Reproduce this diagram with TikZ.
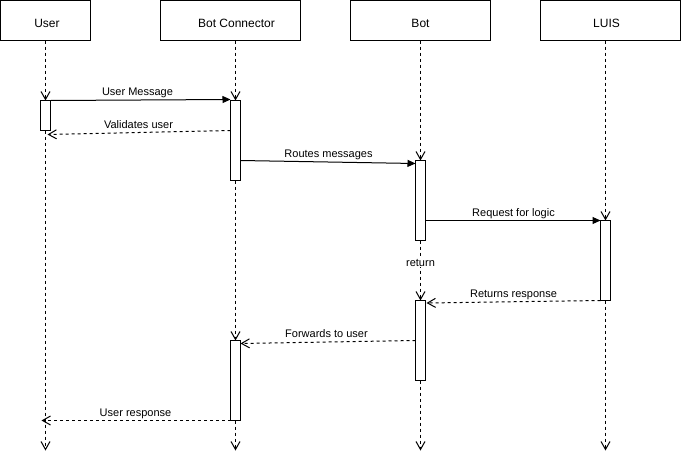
\documentclass[tikz,border=0pt]{standalone}
\usepackage{fontspec}
\setmainfont{Liberation Sans}
\usetikzlibrary{arrows.meta,calc}
\begin{document}
\begin{tikzpicture}[x=1pt,y=-1pt,
  head/.style={draw,line width=1pt,minimum height=40pt,inner sep=0pt,outer sep=0pt,
    text height=15pt,text depth=0.4pt,font=\fontsize{12}{14}\selectfont},
  act/.style={draw,fill=white,line width=1pt,minimum width=10pt,inner sep=0pt,outer sep=0pt,anchor=north},
  life/.style={line width=1pt,dash pattern=on 3pt off 3pt,-{Straight Barb[length=8pt,width=9pt]}},
  msg/.style={line width=1pt,-{Triangle[length=8pt,width=7pt]}},
  ret/.style={line width=1pt,dash pattern=on 3pt off 3pt,-{Straight Barb[length=8pt,width=9pt]}},
  lbl/.style={font=\fontsize{11}{13}\selectfont,inner sep=0pt,anchor=base}]
\useasboundingbox (-0.5,-0.5) rectangle (680.5,460.5);

% headers
\node[head,minimum width=90pt] (user) at (45,20) {\hspace*{3pt}User};
\node[head,minimum width=140pt] (bc) at (230,20) {\hspace*{12pt}Bot Connector};
\node[head,minimum width=140pt] (bot) at (420,20) {Bot};
\node[head,minimum width=140pt] (luis) at (610,20) {\hspace*{-8pt}LUIS};

% activation bars
\node[act,minimum height=30pt] (ua) at (45,100) {};
\node[act,minimum height=80pt] (bca1) at (235,100) {};
\node[act,minimum height=80pt] (bca2) at (235,340) {};
\node[act,minimum height=80pt] (ba1) at (420,160) {};
\node[act,minimum height=80pt] (ba2) at (420,300) {};
\node[act,minimum height=80pt] (la) at (605,220) {};

% lifeline ends
\coordinate (uend) at (45,450);
\coordinate (bcend) at (235,450);
\coordinate (bend) at (420,450);
\coordinate (lend) at (605,450);

% lifelines
\draw[life] (user.south) -- (ua.north);
\draw[life] (ua.south) -- (uend);
\draw[life] (bc.south -| bca1.north) -- (bca1.north);
\draw[life] (bca1.south) -- (bca2.north);
\draw[life] (bca2.south) -- (bcend);
\draw[life] (bot.south) -- (ba1.north);
\draw[life] (ba1.south) -- node[pos=0.37,fill=white,inner sep=1pt,font=\fontsize{11}{13}\selectfont] (rlbl) {return} (ba2.north);
\draw[life] (ba2.south) -- (bend);
\draw[life] (luis.south -| la.north) -- (la.north);
\draw[life] (la.south) -- (lend);

% messages
\draw[msg] (ua.north east) -- ($(bca1.north west)+(0,-1)$);
\node[lbl] (l1) at (137,95) {User Message};

\draw[ret] ($(bca1.north west)+(0,30)$) -- ($(ua.south east)+(-3,4)$);
\node[lbl] (l2) at (138,128) {Validates user};

\draw[msg] ($(bca1.north east)+(0,60)$) -- ($(ba1.north west)+(0,3)$);
\node[lbl] (l3) at (328,157) {Routes messages};

\draw[msg] (ba1.east |- la.north) -- (la.north west);
\node[lbl] (l4) at (513,216) {Request for logic};

\draw[ret] (la.south west) -- ($(ba2.north east)+(1,2.5)$);
\node[lbl] (l5) at (513,297) {Returns response};

\draw[ret] ($(ba2.north west)+(0,40)$) -- ($(bca2.north east)+(0,3)$);
\node[lbl] (l6) at (326,337) {Forwards to user};

\draw[ret] (bca2.south west) -- ($(ua.south west |- bca2.south)+(1,0)$);
\node[lbl] (l7) at (135,416) {User response};
\end{tikzpicture}
\end{document}
